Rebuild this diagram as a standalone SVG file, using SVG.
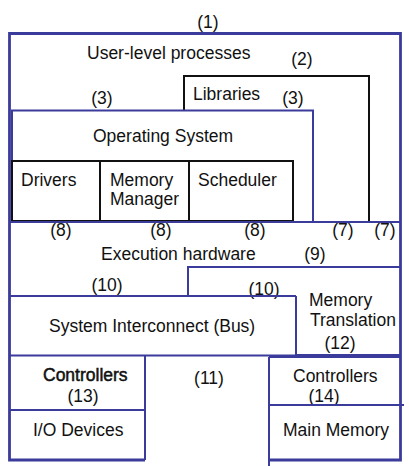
<svg xmlns="http://www.w3.org/2000/svg" width="409" height="466" viewBox="0 0 409 466">
<style>
text{font-family:"Liberation Sans",Arial,sans-serif;font-size:17.5px;fill:#111}
.c{text-anchor:middle}
.b{fill:none;stroke:#3B3B9B;stroke-width:2}
.bo{fill:none;stroke:#3B3B9B;stroke-width:2.8}
.k{fill:none;stroke:#111;stroke-width:2}
.bold{stroke:#111;stroke-width:0.5}
</style>
<rect width="409" height="466" fill="#fff"/>
<g id="user-level">
<path class="bo" d="M145,460 H9.5 V33.5 H400.5 V460 H269"/>
<text class="c" x="208" y="28">(1)</text>
<text x="87" y="59">User-level processes</text>
</g>
<g id="libraries">
<path class="k" d="M184,110 V76 H369 V222 H184"/>
<text class="c" x="302" y="65">(2)</text>
<text x="193" y="100">Libraries</text>
<text class="c" x="293" y="104">(3)</text>
</g>
<g id="operating-system">
<path class="b" d="M12,222 V110.5 H313 V222"/>
<text class="c" x="102" y="104">(3)</text>
<text x="93" y="142">Operating System</text>
</g>
<g id="drivers">
<rect class="k" x="12" y="161" width="88" height="60"/>
<text x="21" y="186">Drivers</text>
</g>
<g id="memory-manager">
<rect class="k" x="100" y="161" width="89" height="60"/>
<text x="110" y="186">Memory</text>
<text x="110" y="205">Manager</text>
</g>
<g id="scheduler">
<rect class="k" x="189" y="161" width="104" height="60"/>
<text x="198" y="186">Scheduler</text>
</g>
<g id="execution-hardware">
<path class="b" d="M9,222 H400"/>
<text class="c" x="61" y="236">(8)</text>
<text class="c" x="161" y="236">(8)</text>
<text class="c" x="255" y="236">(8)</text>
<text class="c" x="343" y="236">(7)</text>
<text class="c" x="385" y="236">(7)</text>
<text x="101" y="260">Execution hardware</text>
<text class="c" x="315" y="260">(9)</text>
<text class="c" x="107" y="291">(10)</text>
</g>
<g id="memory-translation">
<text class="c" x="264" y="295">(10)</text>
<path class="b" d="M188,296 V267 H400 M296,296 V355 H400"/>
<text x="309" y="306">Memory</text>
<text x="310" y="326">Translation</text>
<text class="c" x="340" y="349">(12)</text>
</g>
<g id="system-interconnect">
<path class="b" d="M9,296 H296 M9,355.5 H296"/>
<text x="49" y="332">System Interconnect (Bus)</text>
<text class="c" x="209" y="384">(11)</text>
</g>
<g id="io-controllers">
<path class="b" d="M145,356 V460 M9,410 H145"/>
<text class="bold" x="43" y="381">Controllers</text>
<text class="c" x="83" y="402">(13)</text>
</g>
<g id="io-devices">
<text x="33" y="436">I/O Devices</text>
</g>
<g id="memory-controllers">
<path class="b" d="M269,357 H400 M269,357 V466"/>
<text x="293" y="382">Controllers</text>
<text class="c" x="324" y="402">(14)</text>
</g>
<g id="main-memory">
<path class="b" d="M269,405 H404"/>
<text x="283" y="436">Main Memory</text>
</g>
</svg>
